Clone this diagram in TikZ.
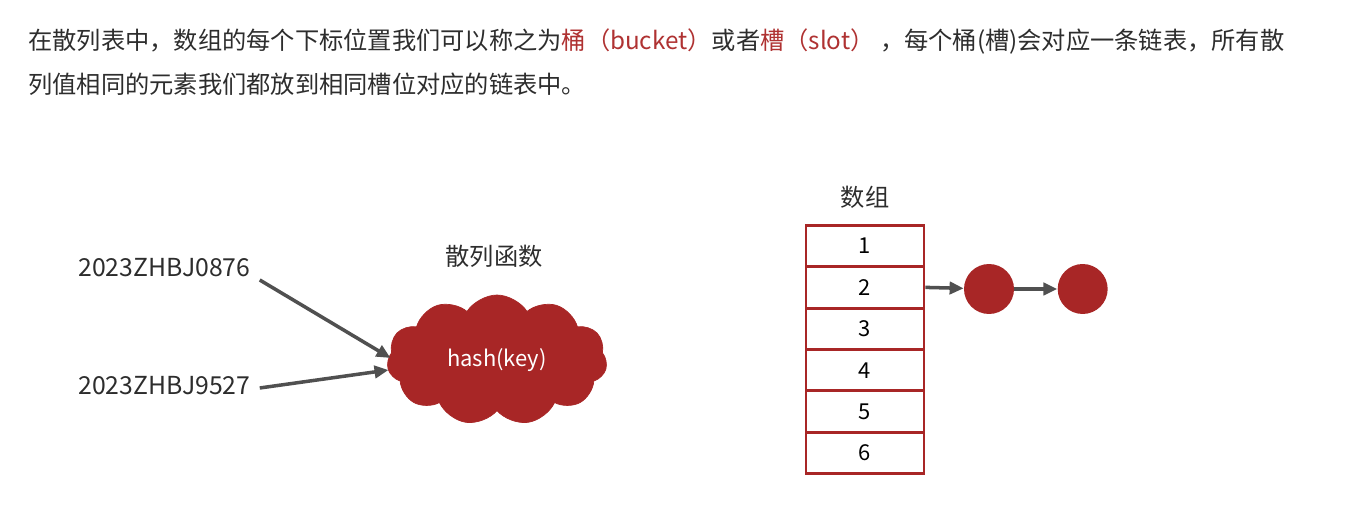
\documentclass[tikz,border=0pt]{standalone}
\usepackage{fontspec}
\setmainfont{Noto Sans CJK SC}
\usepackage{xcolor}
\usetikzlibrary{shapes.symbols, arrows.meta, positioning}
\definecolor{hashred}{RGB}{168,38,38}
\definecolor{wordred}{RGB}{175,50,50}
\definecolor{textgray}{RGB}{45,45,45}
\definecolor{arrowgray}{RGB}{80,80,80}

\begin{document}
\begin{tikzpicture}[
  x=0.02cm, y=-0.02cm,
  node distance=0.86cm,
  intro/.style={anchor=west, inner sep=0pt, text=textgray,
    font=\fontsize{13.8pt}{16pt}\selectfont},
  keytext/.style={anchor=west, inner sep=0pt, text=textgray,
    font=\fontsize{14.1pt}{17pt}\selectfont},
  caption/.style={inner sep=0pt, text=textgray,
    font=\fontsize{13.8pt}{16pt}\selectfont},
  hashcloud/.style={
    cloud, cloud puffs=11, cloud puff arc=115, aspect=1.75,
    fill=hashred, draw=hashred, text=white,
    minimum width=4.4cm, minimum height=2.6cm,
    font=\fontsize{12.5pt}{14pt}\selectfont
  },
  cell/.style={
    draw=hashred, line width=1.5pt, fill=white,
    minimum width=2.36cm, minimum height=0.82cm,
    text=black, font=\fontsize{12.5pt}{14pt}\selectfont
  },
  entry/.style={circle, fill=hashred, minimum size=1cm, inner sep=0pt},
  arrow/.style={-{Triangle[length=8pt,width=7pt]}, line width=2pt, color=arrowgray},
]
\useasboundingbox (0,0) rectangle (1356,516);

% intro text
\node[intro] (line1) at (28,42) {在散列表中，数组的每个下标位置我们可以称之为\textcolor{wordred}{桶（bucket）}或者\textcolor{wordred}{槽（slot）} ，每个桶(槽)会对应一条链表，所有散};
\node[intro] (line2) at (28,84) {列值相同的元素我们都放到相同槽位对应的链表中。};

% keys and hash function
\node[keytext] (key1) at (78,268) {2023ZHBJ0876};
\node[keytext] (key2) at (78,386) {2023ZHBJ9527};
\node[hashcloud] (hash) at (497,360) {hash(key)};
\node[caption] (hashname) at (494,256) {散列函数};

\draw[arrow] ([xshift=0.18cm,yshift=-0.24cm]key1.east) -- ([xshift=0.06cm,yshift=0.04cm]hash.west);
\draw[arrow] ([xshift=0.18cm,yshift=-0.04cm]key2.east) -- ([xshift=0.02cm,yshift=-0.2cm]hash.west);

% array of buckets
\foreach \i in {1,...,6}
  \node[cell] (c\i) at (865,{246+41.4*(\i-1)}) {\i};
\node[caption, above=0.3cm of c1] (arrname) {数组};

% linked list
\node[entry] (n1) at (989,289) {};
\node[entry, right=of n1] (n2) {};

\draw[arrow] (c2.east) -- (n1);
\draw[arrow] (n1) -- (n2);

\end{tikzpicture}
\end{document}
